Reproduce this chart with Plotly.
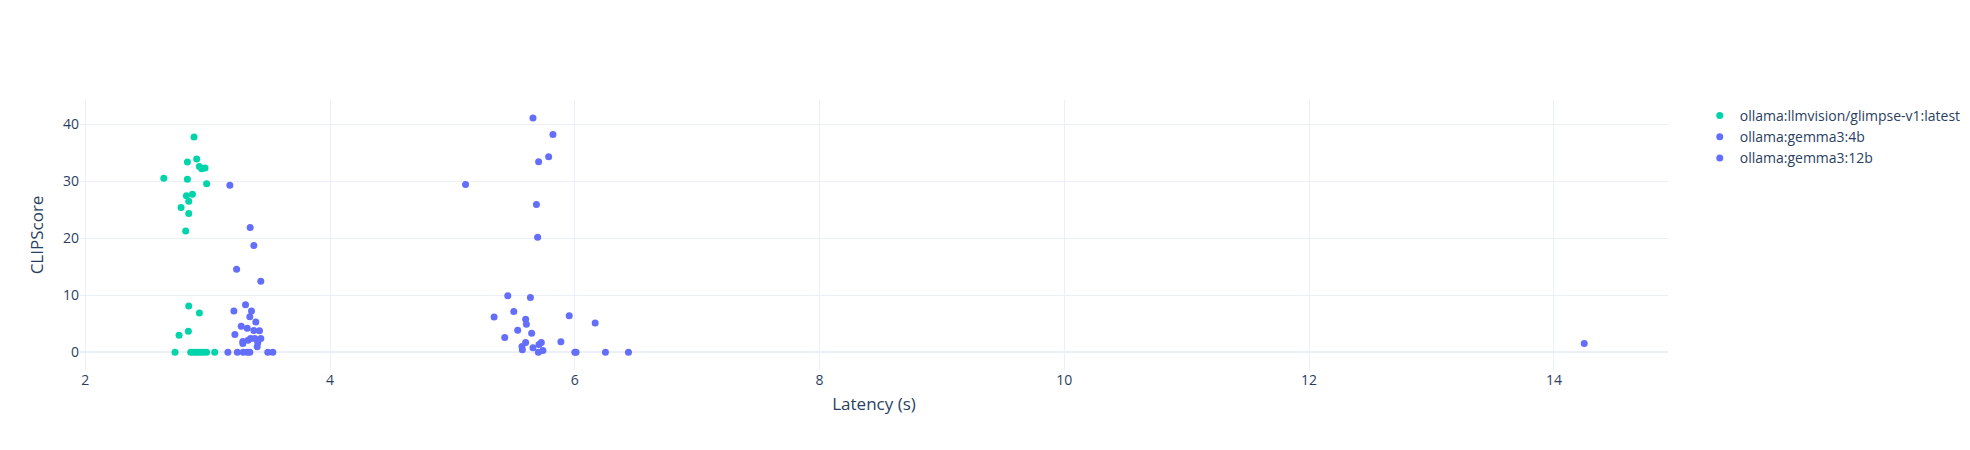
import plotly.graph_objects as go

# Data
glimpse_latency = [2.888, 2.910, 2.834, 2.932, 2.951, 2.978, 2.641, 2.834, 2.991, 2.875,
                   2.826, 2.845, 2.782, 2.845, 2.820, 2.845, 2.932, 2.842, 2.766, 2.733,
                   2.861, 2.883, 2.902, 2.921, 2.943, 2.965, 2.991, 3.057]
glimpse_score = [37.75, 33.87, 33.34, 32.58, 32.18, 32.3, 30.49, 30.31, 29.56, 27.7,
                 27.42, 26.48, 25.38, 24.34, 21.25, 8.08, 6.86, 3.66, 2.96, 0,
                 0, 0, 0, 0, 0, 0, 0, 0]

gemma4b_latency = [3.181, 3.347, 3.377, 3.236, 3.434, 3.309, 3.214, 3.358, 3.344, 3.393,
                   3.274, 3.323, 3.222, 3.377, 3.423, 3.350, 3.385, 3.434, 3.287, 3.330,
                   3.409, 3.404, 3.287, 3.165, 3.242, 3.290, 3.323, 3.344, 3.491, 3.532]
gemma4b_score = [29.27, 21.85, 18.71, 14.53, 12.44, 8.31, 7.2, 7.2, 6.22, 5.3,
                 4.53, 4.18, 3.08, 3.78, 3.73, 2.39, 2.39, 2.39, 1.86, 2.1,
                 1.64, 0.94, 1.5, 0, 0, 0, 0, 0, 0, 0]

gemma12b_latency = [5.658, 5.821, 5.786, 5.704, 5.107, 5.686, 5.696, 5.452, 5.637, 5.501,
                    5.954, 5.598, 5.604, 5.427, 5.533, 5.647, 5.886, 5.598, 5.568, 5.571,
                    5.658, 5.707, 5.726, 5.702, 5.739, 6.0, 6.01, 5.340, 6.166, 6.250,
                    6.438, 14.248]
gemma12b_score = [41.1, 38.2, 34.3, 33.4, 29.4, 25.9, 20.16, 9.88, 9.58, 7.14,
                  6.39, 5.75, 4.88, 2.56, 3.83, 3.31, 1.81, 1.69, 0.99, 0.42,
                  0.77, 1.34, 1.69, 0, 0.3, 0, 0, 6.17, 5.12, 0,
                  0, 1.52]

series_names = ["ollama:llmvision/glimpse-v1:latest", "ollama:gemma3:4b", "ollama:gemma3:12b"]
series_colors = ["#00d4aa", "#636efa", "#636efa"]

fig = go.Figure()
for name, xs, ys, color in zip(
        series_names,
        [glimpse_latency, gemma4b_latency, gemma12b_latency],
        [glimpse_score, gemma4b_score, gemma12b_score],
        series_colors):
    fig.add_trace(go.Scatter(x=xs, y=ys, mode="markers", name=name,
                             marker=dict(color=color, size=7)))

# margins shifted by 8px to offset the page's default body margin
fig.update_layout(
    template="plotly_white",
    width=1970,
    height=450,
    font=dict(size=14),
    margin=dict(l=72, r=88, t=92, b=88),
    xaxis_title="Latency (s)",
    xaxis_title_standoff=10,
    yaxis_title="CLIPScore",
)

fig.write_html("out.html")
